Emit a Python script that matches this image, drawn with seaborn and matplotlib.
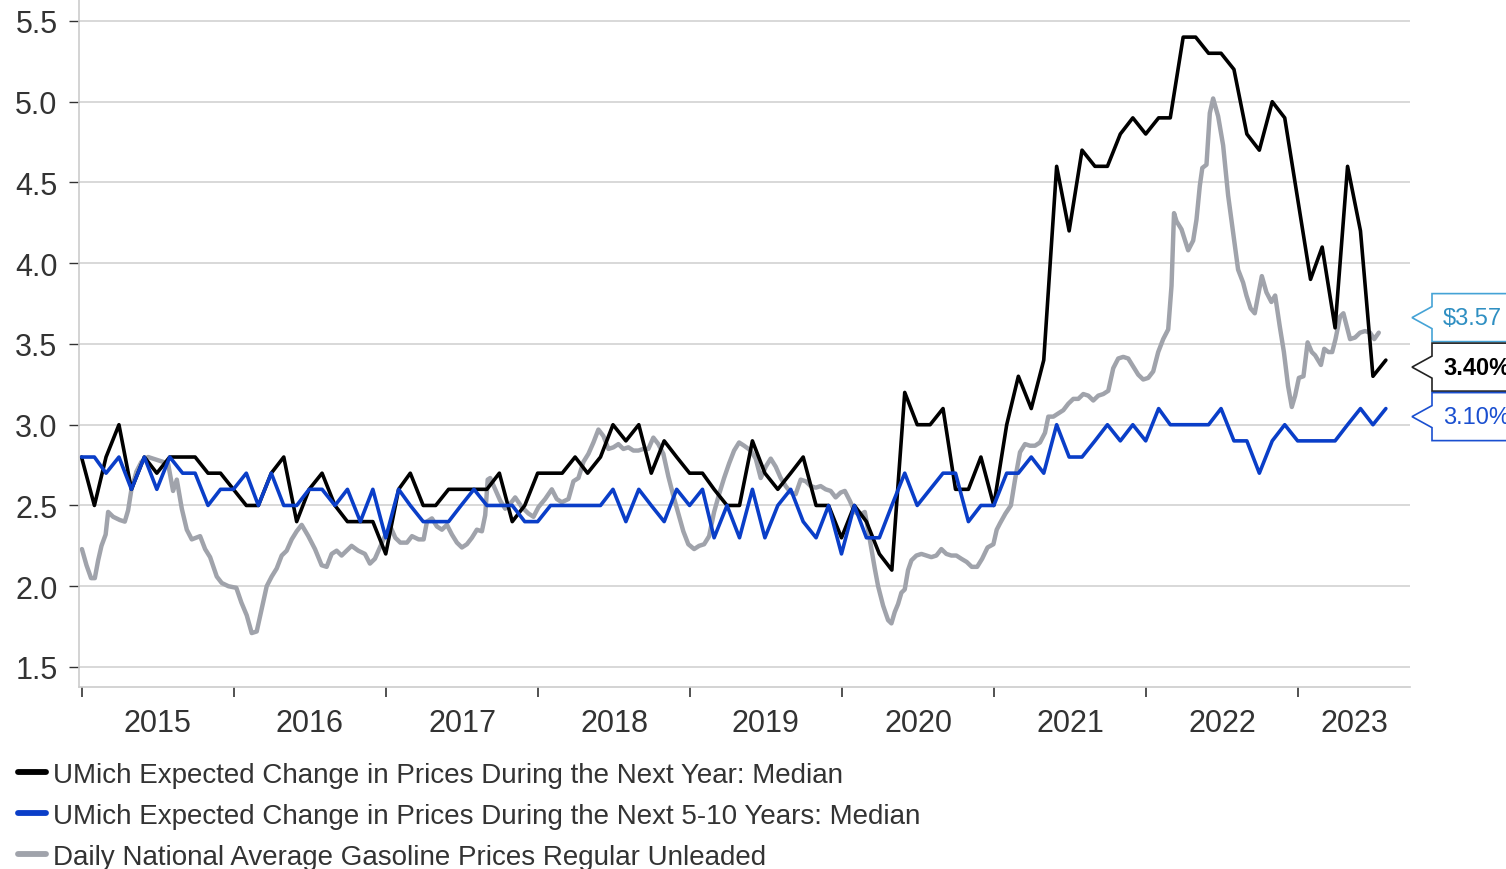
import matplotlib
matplotlib.use("Agg")
import matplotlib.pyplot as plt
import matplotlib.dates as mdates
from matplotlib.patches import Polygon
from matplotlib.lines import Line2D
from matplotlib.ticker import FixedLocator, FixedFormatter, NullFormatter
import pandas as pd
import seaborn as sns

sns.set_theme(style="white")
plt.rcParams['font.family'] = ['Liberation Sans', 'DejaVu Sans']

BLACK = '#000000'
BLUE = '#0a3ec8'
GRAY = '#a0a3ab'
TEXT = '#333333'

# monthly survey values, Dec 2014 .. Jul 2023 (dated at month end)
exp_1yr = [
    2.8, 2.5, 2.8, 3.0, 2.6, 2.8, 2.7, 2.8, 2.8, 2.8, 2.7, 2.7,
    2.6, 2.5, 2.5, 2.7, 2.8, 2.4, 2.6, 2.7, 2.5, 2.4, 2.4, 2.4,
    2.2, 2.6, 2.7, 2.5, 2.5, 2.6, 2.6, 2.6, 2.6, 2.7, 2.4, 2.5,
    2.7, 2.7, 2.7, 2.8, 2.7, 2.8, 3.0, 2.9, 3.0, 2.7, 2.9, 2.8,
    2.7, 2.7, 2.6, 2.5, 2.5, 2.9, 2.7, 2.6, 2.7, 2.8, 2.5, 2.5,
    2.3, 2.5, 2.4, 2.2, 2.1, 3.2, 3.0, 3.0, 3.1, 2.6, 2.6, 2.8,
    2.5, 3.0, 3.3, 3.1, 3.4, 4.6, 4.2, 4.7, 4.6, 4.6, 4.8, 4.9,
    4.8, 4.9, 4.9, 5.4, 5.4, 5.3, 5.3, 5.2, 4.8, 4.7, 5.0, 4.9,
    4.4, 3.9, 4.1, 3.6, 4.6, 4.2, 3.3, 3.4,
]
exp_5_10yr = [
    2.8, 2.8, 2.7, 2.8, 2.6, 2.8, 2.6, 2.8, 2.7, 2.7, 2.5, 2.6,
    2.6, 2.7, 2.5, 2.7, 2.5, 2.5, 2.6, 2.6, 2.5, 2.6, 2.4, 2.6,
    2.3, 2.6, 2.5, 2.4, 2.4, 2.4, 2.5, 2.6, 2.5, 2.5, 2.5, 2.4,
    2.4, 2.5, 2.5, 2.5, 2.5, 2.5, 2.6, 2.4, 2.6, 2.5, 2.4, 2.6,
    2.5, 2.6, 2.3, 2.5, 2.3, 2.6, 2.3, 2.5, 2.6, 2.4, 2.3, 2.5,
    2.2, 2.5, 2.3, 2.3, 2.5, 2.7, 2.5, 2.6, 2.7, 2.7, 2.4, 2.5,
    2.5, 2.7, 2.7, 2.8, 2.7, 3.0, 2.8, 2.8, 2.9, 3.0, 2.9, 3.0,
    2.9, 3.1, 3.0, 3.0, 3.0, 3.0, 3.1, 2.9, 2.9, 2.7, 2.9, 3.0,
    2.9, 2.9, 2.9, 2.9, 3.0, 3.1, 3.0, 3.1,
]
month_dt = pd.date_range("2015-01-01", periods=len(exp_1yr), freq="MS") - pd.Timedelta(days=1)

# gasoline
gas_dates = [
    "2015-01-01", "2015-01-12", "2015-01-23", "2015-02-01", "2015-02-09", "2015-02-17", "2015-02-27",
    "2015-03-05", "2015-03-17", "2015-04-02", "2015-04-14", "2015-04-22", "2015-04-30", "2015-05-12",
    "2015-05-24", "2015-06-09", "2015-06-21", "2015-07-03", "2015-07-15", "2015-07-27", "2015-08-08",
    "2015-08-17", "2015-08-29", "2015-09-10", "2015-09-22", "2015-10-12", "2015-10-24", "2015-11-05",
    "2015-11-21", "2015-12-03", "2015-12-19",
    "2016-01-07", "2016-01-19", "2016-02-01", "2016-02-13", "2016-02-25", "2016-03-08", "2016-03-20",
    "2016-04-01", "2016-04-13", "2016-04-25", "2016-05-07", "2016-05-19", "2016-05-31", "2016-06-12",
    "2016-06-28", "2016-07-14", "2016-07-30", "2016-08-11", "2016-08-23", "2016-09-04", "2016-09-16",
    "2016-09-28", "2016-10-10", "2016-10-26", "2016-11-11", "2016-11-23", "2016-12-05", "2016-12-17",
    "2016-12-29",
    "2017-01-11", "2017-01-23", "2017-02-04", "2017-02-20", "2017-03-04", "2017-03-20", "2017-04-01",
    "2017-04-09", "2017-04-21", "2017-05-03", "2017-05-15", "2017-05-27", "2017-06-08", "2017-06-20",
    "2017-07-02", "2017-07-14", "2017-07-26", "2017-08-07", "2017-08-19", "2017-08-27", "2017-09-02",
    "2017-09-08", "2017-09-20", "2017-10-02", "2017-10-14", "2017-10-26", "2017-11-07", "2017-11-23",
    "2017-12-09", "2017-12-21",
    "2018-01-02", "2018-01-18", "2018-02-03", "2018-02-15", "2018-02-27", "2018-03-15", "2018-03-27",
    "2018-04-08", "2018-04-20", "2018-05-02", "2018-05-14", "2018-05-26", "2018-06-07", "2018-06-19",
    "2018-07-01", "2018-07-13", "2018-07-25", "2018-08-06", "2018-08-18", "2018-08-30", "2018-09-11",
    "2018-09-23", "2018-10-05", "2018-10-17", "2018-10-29", "2018-11-10", "2018-11-22", "2018-12-04",
    "2018-12-16", "2018-12-28",
    "2019-01-11", "2019-01-23", "2019-02-04", "2019-02-16", "2019-02-28", "2019-03-12", "2019-03-24",
    "2019-04-05", "2019-04-17", "2019-04-29", "2019-05-11", "2019-05-27", "2019-06-08", "2019-06-20",
    "2019-07-02", "2019-07-14", "2019-07-26", "2019-08-07", "2019-08-19", "2019-08-31", "2019-09-12",
    "2019-09-24", "2019-10-06", "2019-10-18", "2019-10-30", "2019-11-11", "2019-11-23", "2019-12-05",
    "2019-12-17", "2019-12-29",
    "2020-01-08", "2020-01-20", "2020-02-01", "2020-02-13", "2020-02-25", "2020-03-04", "2020-03-12",
    "2020-03-20", "2020-03-28", "2020-04-09", "2020-04-21", "2020-04-29", "2020-05-07", "2020-05-15",
    "2020-05-23", "2020-05-31", "2020-06-08", "2020-06-16", "2020-06-28", "2020-07-10", "2020-07-22",
    "2020-08-03", "2020-08-15", "2020-08-27", "2020-09-08", "2020-09-20", "2020-10-02", "2020-10-14",
    "2020-10-27", "2020-11-08", "2020-11-21", "2020-12-03", "2020-12-16", "2020-12-30",
    "2021-01-07", "2021-01-15", "2021-01-28", "2021-02-10", "2021-02-20", "2021-03-04", "2021-03-16",
    "2021-03-28", "2021-04-09", "2021-04-21", "2021-05-03", "2021-05-11", "2021-05-23", "2021-06-04",
    "2021-06-16", "2021-06-28", "2021-07-10", "2021-07-22", "2021-08-03", "2021-08-15", "2021-08-27",
    "2021-09-08", "2021-09-20", "2021-10-02", "2021-10-14", "2021-10-26", "2021-11-07", "2021-11-19",
    "2021-12-01", "2021-12-13", "2021-12-25",
    "2022-01-06", "2022-01-18", "2022-01-30", "2022-02-11", "2022-02-23", "2022-03-03", "2022-03-09",
    "2022-03-15", "2022-03-27", "2022-04-12", "2022-04-24", "2022-05-02", "2022-05-10", "2022-05-16",
    "2022-05-26", "2022-06-03", "2022-06-11", "2022-06-23", "2022-07-05", "2022-07-17", "2022-07-29",
    "2022-08-10", "2022-08-22", "2022-08-30", "2022-09-09", "2022-09-19", "2022-09-27", "2022-10-06",
    "2022-10-17", "2022-10-29", "2022-11-07", "2022-11-18", "2022-11-28", "2022-12-08", "2022-12-17",
    "2022-12-25",
    "2023-01-03", "2023-01-14", "2023-01-24", "2023-02-03", "2023-02-11", "2023-02-25", "2023-03-05",
    "2023-03-15", "2023-03-24", "2023-04-01", "2023-04-12", "2023-04-20", "2023-04-28", "2023-05-06",
    "2023-05-18", "2023-05-30", "2023-06-11", "2023-06-23", "2023-07-03", "2023-07-14",
]
gas_price = [
    2.23, 2.13, 2.05, 2.05, 2.16, 2.25, 2.32, 2.46, 2.43, 2.41, 2.40, 2.47, 2.60, 2.71,
    2.77, 2.80, 2.79, 2.78, 2.77, 2.76, 2.59, 2.66, 2.48, 2.35, 2.29, 2.31, 2.23, 2.18,
    2.06, 2.02, 2.00,
    1.99, 1.90, 1.82, 1.71, 1.72, 1.86, 2.00, 2.06, 2.11, 2.19, 2.22, 2.29, 2.34, 2.38,
    2.31, 2.23, 2.13, 2.12, 2.20, 2.22, 2.19, 2.22, 2.25, 2.22, 2.20, 2.14, 2.17, 2.24,
    2.31,
    2.37, 2.30, 2.27, 2.27, 2.31, 2.29, 2.29, 2.40, 2.42, 2.37, 2.35, 2.38, 2.32, 2.27,
    2.24, 2.26, 2.30, 2.35, 2.34, 2.44, 2.66, 2.67, 2.60, 2.53, 2.48, 2.51, 2.55, 2.49,
    2.45, 2.43,
    2.49, 2.54, 2.60, 2.54, 2.52, 2.54, 2.65, 2.67, 2.77, 2.82, 2.89, 2.97, 2.93, 2.85,
    2.86, 2.88, 2.85, 2.86, 2.84, 2.84, 2.85, 2.85, 2.92, 2.88, 2.82, 2.68, 2.56, 2.45,
    2.34, 2.26,
    2.23, 2.25, 2.26, 2.31, 2.46, 2.57, 2.67, 2.76, 2.84, 2.89, 2.87, 2.84, 2.79, 2.67,
    2.74, 2.79, 2.74, 2.67, 2.62, 2.58, 2.57, 2.66, 2.65, 2.62, 2.61, 2.62, 2.60, 2.59,
    2.55, 2.58,
    2.59, 2.53, 2.46, 2.44, 2.46, 2.35, 2.23, 2.11, 2.00, 1.88, 1.79, 1.77, 1.84, 1.89,
    1.96, 1.98, 2.10, 2.16, 2.19, 2.20, 2.19, 2.18, 2.19, 2.23, 2.20, 2.19, 2.19, 2.17,
    2.15, 2.12, 2.12, 2.17, 2.24, 2.26,
    2.35, 2.39, 2.45, 2.50, 2.66, 2.83, 2.88, 2.87, 2.87, 2.89, 2.95, 3.05, 3.05, 3.07,
    3.09, 3.13, 3.16, 3.16, 3.19, 3.18, 3.15, 3.18, 3.19, 3.21, 3.35, 3.41, 3.42, 3.41,
    3.36, 3.31, 3.28,
    3.29, 3.33, 3.45, 3.53, 3.59, 3.86, 4.31, 4.26, 4.21, 4.08, 4.14, 4.27, 4.48, 4.59,
    4.61, 4.93, 5.02, 4.91, 4.73, 4.42, 4.19, 3.96, 3.88, 3.80, 3.72, 3.69, 3.80, 3.92,
    3.82, 3.76, 3.80, 3.61, 3.45, 3.24, 3.11, 3.18,
    3.29, 3.30, 3.51, 3.45, 3.43, 3.37, 3.47, 3.45, 3.45, 3.53, 3.67, 3.69, 3.61, 3.53,
    3.54, 3.57, 3.58, 3.57, 3.53, 3.57,
]
gas_dt = pd.to_datetime(gas_dates)

series_names = [
    'UMich Expected Change in Prices During the Next Year: Median',
    'UMich Expected Change in Prices During the Next 5-10 Years: Median',
    'Daily National Average Gasoline Prices Regular Unleaded',
]
year_labels = ['2015', '2016', '2017', '2018', '2019', '2020', '2021', '2022', '2023']
y_ticks = [1.5, 2.0, 2.5, 3.0, 3.5, 4.0, 4.5, 5.0, 5.5]

W, H = 1506, 870
fig = plt.figure(figsize=(W / 100, H / 100), dpi=100)
ax = fig.add_axes([79 / W, 1 - 688 / H, (1410 - 79) / W, 688 / H])

sns.lineplot(x=gas_dt, y=gas_price, ax=ax, color=GRAY, lw=3.2, legend=False)
sns.lineplot(x=month_dt, y=exp_1yr, ax=ax, color=BLACK, lw=2.6, legend=False)
sns.lineplot(x=month_dt, y=exp_5_10yr, ax=ax, color=BLUE, lw=2.6, legend=False)

x_left = pd.Timestamp("2014-12-25")
x_right = pd.Timestamp("2023-09-27")
ax.set_xlim(x_left, x_right)
ax.set_ylim(1.376, 5.636)
ax.set_xlabel('')
ax.set_ylabel('')

# y axis
ax.set_yticks(y_ticks)
ax.set_yticklabels([f'{v:.1f}' for v in y_ticks])
ax.yaxis.grid(True, color='#d2d2d2', lw=1.2)
ax.xaxis.grid(False)
ax.tick_params(axis='y', which='major', left=True, length=7.5, width=1, color=TEXT,
               labelsize=22, labelcolor=TEXT, pad=8)

# x axis: tick marks at year starts, labels centred in each year
year_starts = [pd.Timestamp(f'{y}-01-01') for y in year_labels]
label_pos = [s + (pd.Timestamp(f'{int(y) + 1}-01-01') - s) / 2 for s, y in zip(year_starts[:-1], year_labels[:-1])]
label_pos.append(year_starts[-1] + (x_right - year_starts[-1]) / 2)
ax.xaxis.set_major_locator(FixedLocator(mdates.date2num(year_starts)))
ax.xaxis.set_major_formatter(NullFormatter())
ax.xaxis.set_minor_locator(FixedLocator(mdates.date2num(label_pos)))
ax.xaxis.set_minor_formatter(FixedFormatter(year_labels))
ax.tick_params(axis='x', which='major', bottom=True, length=7.5, width=1.2, color=TEXT)
ax.tick_params(axis='x', which='minor', bottom=True, length=0, labelsize=22,
               labelcolor=TEXT, pad=15)

for side in ['top', 'right']:
    ax.spines[side].set_visible(False)
for side in ['left', 'bottom']:
    ax.spines[side].set_color('#cccccc')
    ax.spines[side].set_linewidth(1.2)

# legend below the plot
handles = [Line2D([0], [0], color=c, lw=4.2) for c in [BLACK, BLUE, GRAY]]
fig.legend(handles, series_names, loc='upper left', bbox_to_anchor=(18 / W, 1 - 763 / H),
           frameon=False, fontsize=20, handlelength=1.0, handletextpad=0.25,
           labelspacing=0.54, labelcolor=TEXT, borderaxespad=0, borderpad=0)

# last-value callouts at the right edge
last_vals = [gas_price[-1], exp_1yr[-1], exp_5_10yr[-1]]
callout_text = [f'${gas_price[-1]:.2f}', f'{exp_1yr[-1]:.2f}%', f'{exp_5_10yr[-1]:.2f}%']
callout_color = ['#2f8fc2', '#000000', '#1a4fd0']
callout_edge = ['#45a3d6', '#222222', '#1a4fd0']
callout_weight = ['normal', 'bold', 'normal']

ideal = [ax.transData.transform((0, v))[1] for v in last_vals]
order = sorted(range(3), key=lambda i: -ideal[i])
spacing = 49.5
mid = sum(ideal) / 3
tips = {}
for k, i in enumerate(order):
    tips[i] = mid + spacing - k * spacing


def callout(tip_y, text, tcolor, ecolor, weight):
    x_tip, x_box, x_end = 1412, 1432, 1540
    h, n = 24, 11
    pts = [(x_end, tip_y + h), (x_box, tip_y + h), (x_box, tip_y + n), (x_tip, tip_y),
           (x_box, tip_y - n), (x_box, tip_y - h), (x_end, tip_y - h)]
    poly = Polygon([(px / W, py / H) for px, py in pts], closed=False,
                   transform=fig.transFigure, facecolor='white', edgecolor=ecolor,
                   lw=1.2, clip_on=False)
    fig.add_artist(poly)
    fig.text(1443 / W, tip_y / H, text, color=tcolor, fontsize=17, fontweight=weight,
             va='center', ha='left')


for i in range(3):
    callout(tips[i], callout_text[i], callout_color[i], callout_edge[i], callout_weight[i])

fig.savefig('out.png', dpi=100, facecolor='white')
